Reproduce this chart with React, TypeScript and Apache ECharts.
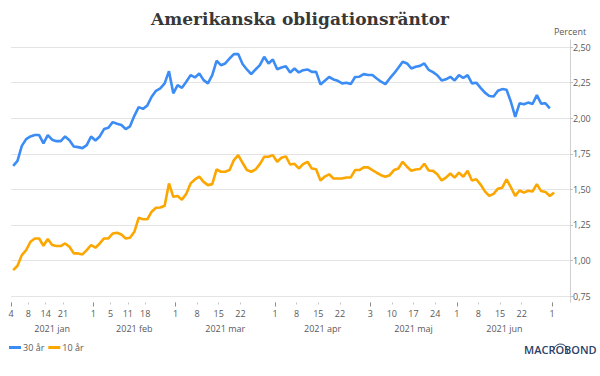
import React, { useEffect, useRef } from "react";
import * as echarts from "echarts";

// Trading days (x categories)
const dates: string[] = [
  "2021-01-04","2021-01-05","2021-01-06","2021-01-07","2021-01-08","2021-01-11","2021-01-12","2021-01-13","2021-01-14","2021-01-15",
  "2021-01-19","2021-01-20","2021-01-21","2021-01-22","2021-01-25","2021-01-26","2021-01-27","2021-01-28","2021-01-29",
  "2021-02-01","2021-02-02","2021-02-03","2021-02-04","2021-02-05","2021-02-08","2021-02-09","2021-02-10","2021-02-11","2021-02-12",
  "2021-02-16","2021-02-17","2021-02-18","2021-02-19","2021-02-22","2021-02-23","2021-02-24","2021-02-25","2021-02-26",
  "2021-03-01","2021-03-02","2021-03-03","2021-03-04","2021-03-05","2021-03-08","2021-03-09","2021-03-10","2021-03-11","2021-03-12",
  "2021-03-15","2021-03-16","2021-03-17","2021-03-18","2021-03-19","2021-03-22","2021-03-23","2021-03-24","2021-03-25","2021-03-26",
  "2021-03-29","2021-03-30","2021-03-31",
  "2021-04-01","2021-04-02","2021-04-05","2021-04-06","2021-04-07","2021-04-08","2021-04-09","2021-04-12","2021-04-13","2021-04-14",
  "2021-04-15","2021-04-16","2021-04-19","2021-04-20","2021-04-21","2021-04-22","2021-04-23","2021-04-26","2021-04-27","2021-04-28",
  "2021-04-29","2021-04-30",
  "2021-05-03","2021-05-04","2021-05-05","2021-05-06","2021-05-07","2021-05-10","2021-05-11","2021-05-12","2021-05-13","2021-05-14",
  "2021-05-17","2021-05-18","2021-05-19","2021-05-20","2021-05-21","2021-05-24","2021-05-25","2021-05-26","2021-05-27","2021-05-28",
  "2021-06-01","2021-06-02","2021-06-03","2021-06-04","2021-06-07","2021-06-08","2021-06-09","2021-06-10","2021-06-11","2021-06-14",
  "2021-06-15","2021-06-16","2021-06-17","2021-06-18","2021-06-21","2021-06-22","2021-06-23","2021-06-24","2021-06-25","2021-06-28",
  "2021-06-29","2021-06-30",
  "2021-07-01",
];

// 30-year yield (%)
const yield30: (number | null)[] = [
  1.666,1.700,1.806,1.853,1.872,1.882,1.882,1.823,1.882,1.849,
  1.839,1.839,1.872,1.846,1.802,1.797,1.790,1.811,1.872,
  1.844,1.872,1.924,1.933,1.973,1.961,1.952,1.924,1.943,2.017,
  2.078,2.066,2.090,2.151,2.193,2.210,2.245,2.331,2.175,
  2.233,2.214,2.256,2.303,2.287,2.315,2.268,2.245,2.303,2.404,
  2.373,2.385,2.420,2.451,2.451,2.381,2.343,2.310,2.343,2.373,
  2.432,2.385,2.413,
  2.345,2.357,2.366,2.322,2.350,2.322,2.338,2.343,2.326,2.326,
  2.238,2.263,2.290,2.273,2.263,2.245,2.250,2.240,2.290,2.292,
  2.310,2.304,
  2.304,2.280,2.257,2.240,2.280,2.315,2.355,2.397,2.385,2.350,
  2.362,2.368,2.385,2.340,2.324,2.302,2.266,2.274,2.291,2.266,
  2.303,2.283,2.303,2.245,2.250,2.214,2.180,2.157,2.153,2.193,
  2.205,2.200,2.116,2.010,2.105,2.098,2.110,2.100,2.163,2.103,
  2.105,2.069,
  null,
];

// 10-year yield (%)
const yield10: (number | null)[] = [
  0.933,0.963,1.038,1.073,1.132,1.155,1.155,1.104,1.151,1.109,
  1.102,1.102,1.120,1.097,1.050,1.050,1.043,1.073,1.109,
  1.090,1.120,1.155,1.155,1.190,1.195,1.183,1.155,1.160,1.202,
  1.300,1.290,1.290,1.343,1.371,1.373,1.385,1.542,1.448,
  1.453,1.428,1.470,1.542,1.570,1.590,1.553,1.530,1.537,1.640,
  1.624,1.624,1.636,1.706,1.741,1.687,1.636,1.624,1.640,1.678,
  1.729,1.729,1.741,
  1.694,1.722,1.732,1.675,1.680,1.647,1.678,1.694,1.647,1.642,
  1.563,1.590,1.606,1.577,1.577,1.577,1.584,1.584,1.636,1.636,
  1.655,1.655,
  1.636,1.617,1.600,1.589,1.600,1.636,1.647,1.694,1.659,1.631,
  1.640,1.643,1.680,1.633,1.630,1.606,1.563,1.583,1.612,1.583,
  1.618,1.589,1.630,1.563,1.571,1.534,1.486,1.454,1.468,1.505,
  1.512,1.571,1.515,1.454,1.492,1.477,1.490,1.485,1.537,1.488,
  1.481,1.454,
  1.478,
];

const seriesNames = ["30 år", "10 år"];
const seriesColors = ["#3b8cf5", "#fca600"];

// Day tick labels on the x axis
const dayTickDates = [
  "2021-01-04","2021-01-08","2021-01-14","2021-01-21",
  "2021-02-01","2021-02-05","2021-02-11","2021-02-18",
  "2021-03-01","2021-03-08","2021-03-15","2021-03-22",
  "2021-04-01","2021-04-08","2021-04-15","2021-04-22",
  "2021-05-03","2021-05-10","2021-05-17","2021-05-24",
  "2021-06-01","2021-06-08","2021-06-15","2021-06-22",
  "2021-07-01",
];
const monthStartDates = ["2021-01-04","2021-02-01","2021-03-01","2021-04-01","2021-05-03","2021-06-01","2021-07-01"];
const monthLabels = ["2021 jan","2021 feb","2021 mar","2021 apr","2021 maj","2021 jun"];
const yTicks = [0.75, 1.0, 1.25, 1.5, 1.75, 2.0, 2.25, 2.5];

const TEXT = "#595959";
const FONT = "Open Sans";

export default function App() {
  const ref = useRef<HTMLDivElement>(null);
  useEffect(() => {
    const chart = echarts.init(ref.current!, undefined, { renderer: "svg" });

    const dayTickPos = dayTickDates.map((d) => dates.indexOf(d) - 0.5);
    const dayTickText = dayTickDates.map((d) => String(Number(d.slice(8))));
    const monthStartPos = monthStartDates.map((d) => dates.indexOf(d) - 0.5);
    const monthCenters = monthLabels.map((_, k) => (monthStartPos[k] + monthStartPos[k + 1]) / 2);

    const findIdx = (arr: number[], v: number) => arr.findIndex((p) => Math.abs(p - v) < 1e-6);

    const xMin = -0.5;
    const xMax = 128.66;
    const baseX: any = {
      type: "value",
      min: xMin,
      max: xMax,
      position: "bottom",
      axisLine: { show: false, onZero: false },
      splitLine: { show: false },
    };

    const toPairs = (vals: (number | null)[]) =>
      vals.map((v, i) => [i, v]).filter((p) => p[1] !== null);

    const option: any = {
      animation: false,
      backgroundColor: "#ffffff",
      title: {
        text: "Amerikanska obligationsräntor",
        left: "center",
        top: 5,
        textStyle: { fontFamily: "DejaVu Serif", fontWeight: "bold", fontSize: 17, color: "#383838" },
      },
      legend: {
        left: 4,
        top: 338,
        icon: "rect",
        itemWidth: 12,
        itemHeight: 3,
        itemGap: 4,
        data: seriesNames,
        textStyle: { fontFamily: FONT, fontSize: 9, color: TEXT, padding: [0, 0, 0, -3] },
      },
      grid: { left: 11, right: 30, top: 40, bottom: 73.5, outerBoundsMode: "none", containLabel: false },
      xAxis: [
        {
          ...baseX,
          axisTick: { show: true, customValues: dayTickPos, length: 2, lineStyle: { color: "#c4c4c4" } },
          axisLabel: {
            customValues: dayTickPos,
            margin: 6,
            fontFamily: FONT,
            fontSize: 9,
            color: TEXT,
            formatter: (v: number) => {
              const k = findIdx(dayTickPos, v);
              return k >= 0 ? dayTickText[k] : "";
            },
          },
        },
        {
          ...baseX,
          offset: 15,
          axisTick: { show: false },
          axisLabel: {
            customValues: monthCenters,
            margin: 6,
            fontFamily: FONT,
            fontSize: 9,
            color: TEXT,
            formatter: (v: number) => {
              const k = findIdx(monthCenters, v);
              return k >= 0 ? monthLabels[k] : "";
            },
          },
        },
        {
          ...baseX,
          axisTick: { show: true, customValues: monthStartPos, length: 4, lineStyle: { color: "#8c8c8c" } },
          axisLabel: { show: false },
        },
      ],
      yAxis: {
        type: "value",
        position: "right",
        min: 0.705,
        max: 2.55,
        name: "Percent",
        nameLocation: "end",
        nameGap: 4,
        nameTextStyle: { fontFamily: FONT, fontSize: 9, color: TEXT, align: "center" },
        axisLine: { show: true, onZero: false, lineStyle: { color: "#d0d0d0" } },
        axisTick: { show: true, customValues: yTicks, length: 3, lineStyle: { color: "#c4c4c4" } },
        axisLabel: {
          customValues: yTicks,
          margin: 3,
          fontFamily: FONT,
          fontSize: 9,
          color: TEXT,
          formatter: (v: number) => v.toFixed(2).replace(".", ","),
        },
        splitLine: { show: true, lineStyle: { color: "#e4e4e4", width: 1 } },
      },
      series: [
        {
          name: seriesNames[0],
          type: "line",
          data: toPairs(yield30),
          showSymbol: false,
          symbol: "none",
          color: seriesColors[0],
          lineStyle: { width: 2.6, color: seriesColors[0] },
        },
        {
          name: seriesNames[1],
          type: "line",
          data: toPairs(yield10),
          showSymbol: false,
          symbol: "none",
          color: seriesColors[1],
          lineStyle: { width: 2.6, color: seriesColors[1] },
        },
      ],
      graphic: [
        {
          type: "text",
          left: 524,
          top: 344,
          style: {
            text: "MACROBOND",
            fontFamily: FONT,
            fontSize: 11,
            fontWeight: 600,
            fill: "#2a4068",
          },
        },
        {
          type: "arc",
          shape: { cx: 560.5, cy: 351, r: 7, startAngle: Math.PI * 1.05, endAngle: Math.PI * 2.1 },
          style: { stroke: "#2a4068", lineWidth: 1, fill: "none" },
        },
      ],
    };

    chart.setOption(option);
    return () => chart.dispose();
  }, []);

  return (
    <div
      ref={ref}
      style={{ position: "fixed", left: 0, top: 0, width: 600, height: 376, background: "#fff" }}
    />
  );
}
